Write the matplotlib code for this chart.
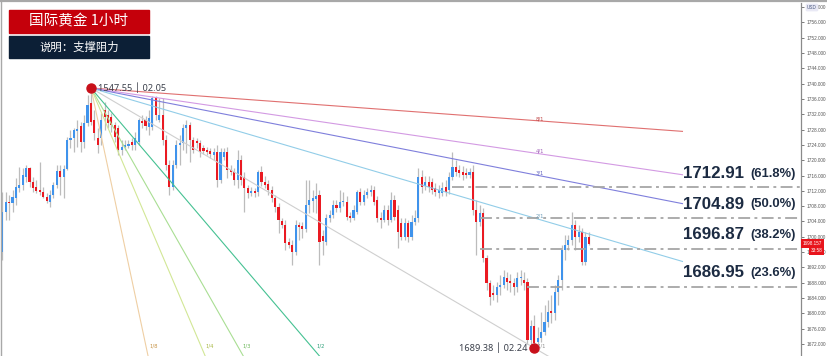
import matplotlib
matplotlib.use("Agg")
import matplotlib.pyplot as plt
from matplotlib.patches import Rectangle
from matplotlib.lines import Line2D
import numpy as np

plt.rcParams['font.family'] = ['Noto Sans CJK SC', 'DejaVu Sans']

# ---------------- data ----------------
opens = [1696.0, 1706.5, 1709.1, 1708.8, 1710.1, 1712.7, 1713.5, 1715.6, 1718.0, 1714.3,
         1713.0, 1712.2, 1711.7, 1710.4, 1709.1, 1710.9, 1713.5, 1717.2, 1715.6, 1717.7,
         1725.3, 1725.8, 1727.6, 1728.9, 1724.8, 1729.7, 1735.0, 1730.5, 1725.8, 1725.8,
         1733.1, 1731.8, 1731.3, 1729.2, 1728.4, 1722.7, 1723.5, 1723.7, 1724.8, 1724.0,
         1724.8, 1730.2, 1730.5, 1728.7, 1728.7, 1736.3, 1730.5, 1731.8, 1725.3, 1718.7,
         1713.0, 1718.7, 1724.0, 1724.5, 1728.4, 1729.2, 1725.3, 1725.0, 1724.5, 1723.2,
         1722.7, 1722.4, 1721.4, 1722.1, 1714.8, 1720.8, 1722.1, 1717.4, 1716.9, 1714.8,
         1720.1, 1715.6, 1712.7, 1711.4, 1711.9, 1711.7, 1716.9, 1714.3, 1713.8, 1712.2,
         1710.1, 1707.8, 1704.1, 1703.1, 1698.6, 1697.8, 1696.0, 1703.1, 1702.8, 1702.0,
         1708.3, 1709.3, 1709.9, 1710.9, 1700.2, 1698.6, 1704.9, 1705.7, 1708.3, 1707.5,
         1709.1, 1709.1, 1705.4, 1704.9, 1706.5, 1711.7, 1709.1, 1710.9, 1711.7, 1712.2,
         1709.6, 1704.9, 1704.4, 1707.0, 1704.4, 1709.6, 1707.0, 1703.6, 1699.9, 1703.6,
         1699.9, 1703.9, 1704.9, 1715.6, 1713.3, 1714.3, 1714.3, 1712.7, 1711.4, 1711.4,
         1713.0, 1712.2, 1715.6, 1718.2, 1717.4, 1716.9, 1716.7, 1716.1, 1716.9, 1707.0,
         1703.9, 1706.2, 1694.4, 1687.9, 1685.3, 1684.8, 1686.9, 1687.4, 1689.2, 1688.4,
         1687.9, 1686.9, 1689.2, 1688.7, 1688.2, 1673.0, 1676.7, 1672.5, 1673.5, 1675.1,
         1677.7, 1680.6, 1680.1, 1685.5, 1688.7, 1696.5, 1697.8, 1699.1, 1703.1, 1699.9,
         1701.2, 1693.4, 1699.9]
highs = [1711.7, 1711.7, 1710.9, 1712.2, 1715.3, 1718.2, 1718.0, 1718.7, 1718.2, 1715.6,
         1714.8, 1719.5, 1713.0, 1711.4, 1712.2, 1714.3, 1718.7, 1718.7, 1718.7, 1726.1,
         1727.9, 1728.4, 1730.5, 1730.0, 1731.8, 1737.0, 1738.87, 1733.1, 1728.4, 1732.3,
         1735.2, 1733.1, 1732.3, 1730.0, 1729.2, 1725.3, 1725.3, 1725.3, 1725.8, 1727.4,
         1731.0, 1731.8, 1731.5, 1733.1, 1736.8, 1736.8, 1736.3, 1736.3, 1726.6, 1720.1,
         1720.1, 1725.3, 1726.6, 1729.5, 1730.5, 1730.0, 1726.1, 1725.8, 1725.3, 1724.0,
         1723.5, 1723.2, 1723.2, 1724.0, 1723.2, 1723.2, 1723.5, 1718.7, 1718.0, 1722.7,
         1721.4, 1716.9, 1713.5, 1713.0, 1712.7, 1717.4, 1718.5, 1715.9, 1714.8, 1713.3,
         1710.9, 1708.8, 1704.9, 1704.4, 1699.7, 1699.1, 1704.4, 1703.9, 1703.9, 1714.8,
         1714.8, 1712.2, 1714.0, 1712.2, 1701.8, 1705.9, 1707.0, 1709.6, 1709.6, 1712.2,
         1711.7, 1710.6, 1706.5, 1708.3, 1712.2, 1712.7, 1712.2, 1712.7, 1713.5, 1713.3,
         1710.6, 1706.5, 1708.3, 1708.3, 1711.7, 1710.9, 1708.3, 1704.9, 1704.9, 1704.4,
         1705.7, 1707.0, 1718.0, 1717.4, 1715.9, 1715.9, 1715.3, 1714.0, 1713.5, 1714.3,
         1714.8, 1716.9, 1722.1, 1720.1, 1718.7, 1718.5, 1718.0, 1718.0, 1718.7, 1709.6,
         1708.3, 1707.5, 1695.2, 1688.7, 1687.4, 1688.2, 1690.0, 1691.3, 1690.8, 1690.3,
         1689.2, 1690.8, 1691.3, 1690.8, 1689.2, 1678.2, 1679.5, 1676.4, 1680.3, 1682.1,
         1683.5, 1684.8, 1687.4, 1690.0, 1697.8, 1700.4, 1700.4, 1706.5, 1704.4, 1703.1,
         1702.3, 1701.2, 1701.2]
lows = [1693.9, 1704.4, 1704.4, 1706.5, 1708.3, 1711.7, 1712.2, 1714.3, 1713.0, 1711.7,
        1711.4, 1710.9, 1710.1, 1708.8, 1707.8, 1710.1, 1712.7, 1710.9, 1710.1, 1717.4,
        1723.2, 1722.1, 1723.5, 1722.1, 1723.2, 1728.9, 1729.2, 1725.3, 1721.9, 1724.0,
        1727.9, 1728.4, 1727.4, 1724.8, 1721.4, 1721.4, 1722.7, 1723.2, 1722.7, 1722.7,
        1724.0, 1728.4, 1727.9, 1726.6, 1727.9, 1730.5, 1730.0, 1724.0, 1717.4, 1710.9,
        1712.2, 1718.0, 1718.7, 1722.7, 1721.9, 1719.5, 1721.9, 1723.2, 1720.8, 1721.6,
        1721.4, 1720.6, 1720.1, 1713.0, 1714.0, 1720.1, 1715.3, 1716.1, 1713.5, 1712.7,
        1713.5, 1706.5, 1710.1, 1710.6, 1710.4, 1710.6, 1713.3, 1712.7, 1710.9, 1709.1,
        1706.5, 1701.0, 1702.3, 1696.5, 1697.0, 1692.6, 1695.2, 1699.1, 1699.7, 1701.2,
        1706.2, 1706.5, 1706.2, 1692.6, 1695.2, 1697.8, 1703.9, 1704.9, 1706.5, 1706.5,
        1708.0, 1704.4, 1703.9, 1704.4, 1705.9, 1708.3, 1708.3, 1710.1, 1710.6, 1708.3,
        1703.9, 1702.3, 1703.9, 1703.1, 1703.9, 1704.4, 1697.0, 1699.1, 1699.1, 1698.6,
        1699.1, 1703.1, 1703.9, 1711.4, 1712.2, 1711.7, 1711.2, 1710.6, 1710.1, 1710.6,
        1710.6, 1711.2, 1714.8, 1715.9, 1715.6, 1714.8, 1715.3, 1715.3, 1705.7, 1695.2,
        1702.8, 1693.4, 1686.1, 1682.1, 1683.5, 1682.9, 1684.8, 1686.6, 1686.1, 1685.5,
        1684.8, 1685.5, 1687.4, 1686.1, 1672.0, 1671.7, 1670.91, 1671.7, 1672.5, 1674.3,
        1676.4, 1677.4, 1678.2, 1682.1, 1686.1, 1693.9, 1696.5, 1697.8, 1696.5, 1698.6,
        1692.6, 1692.6, 1697.8]
closes = [1706.5, 1709.1, 1708.8, 1710.4, 1713.0, 1713.5, 1716.1, 1718.0, 1714.3, 1712.7,
          1711.9, 1711.7, 1710.4, 1709.3, 1710.9, 1713.5, 1717.2, 1715.6, 1717.7, 1725.3,
          1725.8, 1727.9, 1728.2, 1724.8, 1729.7, 1734.4, 1730.0, 1727.1, 1724.0, 1730.5,
          1731.3, 1729.7, 1729.2, 1726.1, 1722.7, 1723.5, 1724.0, 1724.2, 1724.0, 1725.8,
          1730.5, 1729.7, 1728.9, 1731.0, 1736.3, 1731.8, 1731.8, 1725.3, 1718.7, 1713.0,
          1718.7, 1724.0, 1724.5, 1728.4, 1729.2, 1725.3, 1722.7, 1724.5, 1722.1, 1722.4,
          1722.1, 1721.6, 1722.1, 1714.8, 1722.1, 1722.1, 1717.4, 1716.9, 1714.8, 1720.1,
          1714.8, 1712.7, 1711.4, 1711.9, 1711.4, 1716.9, 1714.3, 1713.5, 1712.2, 1710.1,
          1707.8, 1704.4, 1703.1, 1698.4, 1697.8, 1696.0, 1703.1, 1702.5, 1702.0, 1708.3,
          1709.6, 1710.1, 1710.6, 1698.6, 1698.9, 1704.9, 1705.7, 1708.3, 1707.5, 1709.1,
          1709.3, 1705.2, 1704.9, 1707.0, 1711.7, 1709.1, 1710.9, 1711.7, 1712.2, 1709.1,
          1704.9, 1704.4, 1707.0, 1704.4, 1709.6, 1705.2, 1701.2, 1699.9, 1703.6, 1699.9,
          1703.9, 1704.9, 1715.6, 1713.0, 1714.3, 1713.0, 1712.2, 1711.7, 1712.2, 1712.7,
          1711.7, 1715.6, 1718.2, 1716.9, 1716.7, 1716.1, 1716.1, 1716.9, 1707.0, 1703.9,
          1706.2, 1694.4, 1687.9, 1684.2, 1684.8, 1686.9, 1687.4, 1689.5, 1688.2, 1687.9,
          1686.9, 1689.2, 1689.5, 1687.9, 1673.0, 1676.7, 1672.2, 1673.5, 1675.1, 1677.7,
          1680.3, 1680.1, 1685.5, 1688.7, 1696.5, 1697.8, 1699.1, 1703.1, 1699.9, 1701.2,
          1693.4, 1699.9, 1698.157]

swing_high_idx, swing_high = 26, 1738.87
swing_low_idx, swing_low = 156, 1670.91
high_label = "1547.55 │ 02.05"
low_label = "1689.38 │ 02.24"

fan_names = ["8/1", "4/1", "3/1", "2/1", "1/1", "1/2", "1/3", "1/4", "1/8"]
fan_ratio = [1/8, 1/4, 1/3, 1/2, 1, 2, 3, 4, 8]
fan_colors = ["#e07070", "#d39ae3", "#7f7fdc", "#92cde8", "#cfcfcf",
              "#45c192", "#a9de93", "#d2e796", "#efcfa4"]
fan_text_colors = ["#c04848", "#a060b8", "#6464c0", "#6b9cb8", "#909090",
                   "#2fa07a", "#6cb85a", "#a8b845", "#c8964a"]

fib_levels = [1712.91, 1704.89, 1696.87, 1686.95]
fib_pcts = ["(61.8%)", "(50.0%)", "(38.2%)", "(23.6%)"]
fib_start = [132, 140, 140, 154]

yticks = np.arange(1672, 1761, 4)
last_price = "1698.157"
timer = "33:58"

# ---------------- figure ----------------
W, H = 827, 356
fig = plt.figure(figsize=(W / 100, H / 100), dpi=100)
fig.patch.set_facecolor("white")
ax = fig.add_axes([2 / W, 0, 799 / W, 353 / H])
ax.set_facecolor("white")

n = len(closes)
idx = np.arange(n)
o = np.array(opens); c = np.array(closes); hi = np.array(highs); lo = np.array(lows)
up = c >= o
body_col = np.where(up, "#3f93ec", "#ea1a22")
bottoms = np.minimum(o, c)
heights = np.maximum(np.abs(c - o), 0.35)

ax.vlines(idx, lo, hi, colors="#bcbcbc", lw=0.9, zorder=2)
ax.bar(idx, heights, bottom=bottoms, width=0.62, color=body_col, zorder=3, linewidth=0)

# Gann fan
slope1 = (swing_low - swing_high) / (swing_low_idx - swing_high_idx)
x_end = 199.6
xs = np.array([swing_high_idx, x_end])
for name, r, col, tcol in zip(fan_names, fan_ratio, fan_colors, fan_text_colors):
    ys = swing_high + slope1 * r * (xs - swing_high_idx)
    ax.plot(xs, ys, color=col, lw=0.8, zorder=4, solid_capstyle="butt")
    if r < 1:
        xl = swing_low_idx + 0.3
        yl = swing_high + slope1 * r * (xl - swing_high_idx) + 0.5
        ax.text(xl, yl, name, fontsize=3.8, color=tcol, ha="left", va="center",
                family="DejaVu Sans", zorder=5)
    else:
        xl = swing_high_idx + (swing_low - swing_high) / (slope1 * r) + 1.0
        ax.text(xl, swing_low + 0.4, name, fontsize=3.8, color=tcol, ha="left",
                va="center", family="DejaVu Sans", zorder=5)

# Fibonacci levels
for lvl, pct, xs0 in zip(fib_levels, fib_pcts, fib_start):
    ax.hlines(lvl, xs0, 234.2, colors="#a6a6a6", lw=1.3,
              linestyles=[(0, (6.6, 2.4, 1.6, 2.4))], zorder=4)
    ax.text(x_end, lvl + 3.65, f"{lvl:.2f}", fontsize=12.2, fontweight="bold",
            color="#1c2b42", family="Liberation Sans", ha="left", va="center", zorder=6)
    ax.text(219.3, lvl + 3.55, pct, fontsize=9.4, fontweight="bold",
            color="#1c2b42", family="Liberation Sans", ha="left", va="center", zorder=6)

# swing markers
ax.plot([swing_high_idx], [swing_high], "o", ms=6.5, color="#c8101a", zorder=7)
ax.plot([swing_low_idx], [swing_low], "o", ms=6.5, color="#c8101a", zorder=7)
ax.text(swing_high_idx + 2.0, swing_high, high_label, fontsize=6.6, color="#3a3f4a",
        ha="left", va="center", family=["Noto Sans", "DejaVu Sans"], zorder=7)
ax.text(swing_low_idx - 2.0, swing_low, low_label, fontsize=6.6, color="#3a3f4a",
        ha="right", va="center", family=["Noto Sans", "DejaVu Sans"], zorder=7)

ax.set_xlim(-0.08, 234.2)
ax.set_ylim(1668.82, 1761.09)

# right price axis
for s in ["top", "left", "bottom"]:
    ax.spines[s].set_visible(False)
ax.spines["right"].set_color("#8a8a8a")
ax.spines["right"].set_linewidth(0.9)
ax.set_xticks([])
ax.yaxis.tick_right()
ax.set_yticks(yticks)
ax.set_yticklabels([f"{v:.3f}" for v in yticks], family="Liberation Sans")
ax.tick_params(axis="y", length=2, width=0.6, colors="#666666", labelsize=3.4, pad=1.8)
for lab in ax.get_yticklabels():
    lab.set_color("#555555")

# price tags
fig.text(803 / W, 1 - 243.5 / H, last_price, fontsize=3.3, color="white",
         ha="left", va="center", family="Liberation Sans",
         bbox=dict(boxstyle="square,pad=0.35", fc="#e8141c", ec="none"), zorder=10)
fig.text(811 / W, 1 - 250.5 / H, timer, fontsize=3.3, color="white",
         ha="left", va="center", family="Liberation Sans",
         bbox=dict(boxstyle="square,pad=0.35", fc="#e8141c", ec="none"), zorder=10)
fig.text(812 / W, 1 - 7.5 / H, "USD", fontsize=3.3, color="#4a5a80",
         ha="center", va="center", family="Liberation Sans",
         bbox=dict(boxstyle="round,pad=0.3", fc="#e9e9f5", ec="none"), zorder=10)

# title boxes
fig.add_artist(Rectangle((9 / W, 1 - 33.3 / H), 140 / W, 23.3 / H,
                         transform=fig.transFigure, color="#c5000b", zorder=8))
fig.text(79 / W, 1 - 21.8 / H, "国际黄金 1小时", fontsize=10.5, color="white",
         ha="center", va="center", zorder=9)
fig.add_artist(Rectangle((9 / W, 1 - 57.7 / H), 140 / W, 21.7 / H,
                         transform=fig.transFigure, color="#0c1f36", zorder=8))
fig.text(79 / W, 1 - 47 / H, "说明：支撑阻力", fontsize=8.2, color="white",
         ha="center", va="center", zorder=9)

# frame lines (top and left)
fig.add_artist(Line2D([0, 1], [1 - 1.2 / H, 1 - 1.2 / H], transform=fig.transFigure,
                      color="#a8a8a8", lw=1.6))
fig.add_artist(Line2D([0.6 / W, 0.6 / W], [0, 1], transform=fig.transFigure,
                      color="#a8a8a8", lw=1.0))

fig.savefig("out.png", dpi=100, facecolor="white")
